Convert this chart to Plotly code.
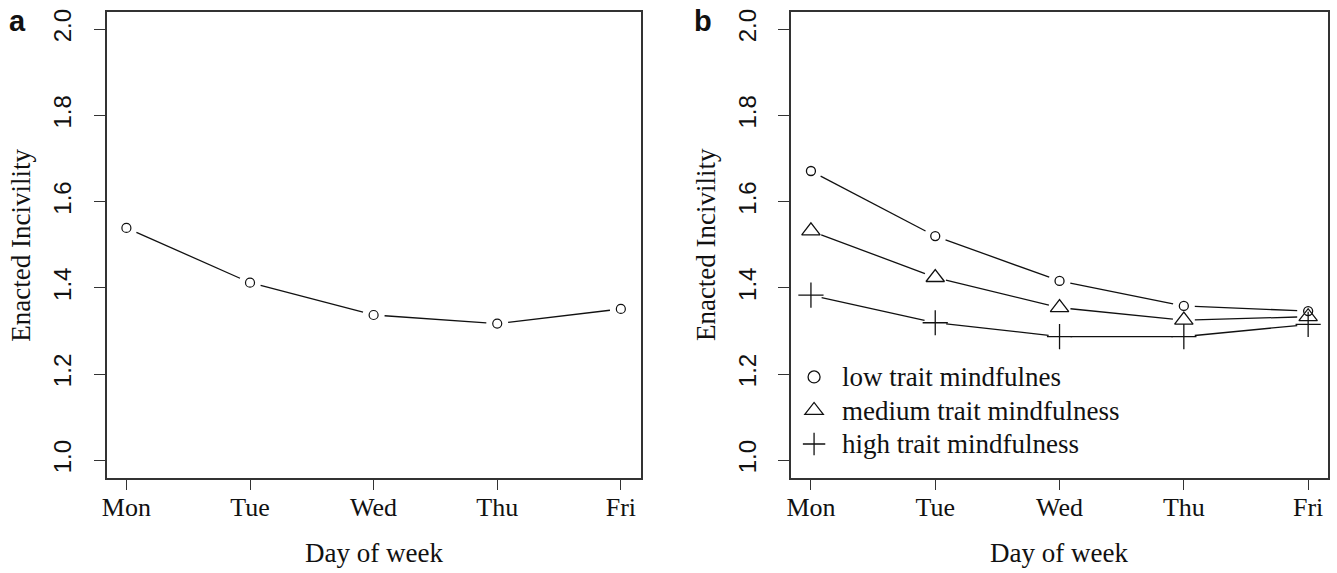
import plotly.graph_objects as go

days = ["Mon", "Tue", "Wed", "Thu", "Fri"]
day_idx = [1, 2, 3, 4, 5]
overall = [1.539, 1.412, 1.337, 1.317, 1.351]
low_mind = [1.671, 1.520, 1.416, 1.358, 1.346]
med_mind = [1.532, 1.424, 1.354, 1.325, 1.333]
high_mind = [1.383, 1.319, 1.287, 1.287, 1.315]
series_names = ["low trait mindfulnes", "medium trait mindfulness", "high trait mindfulness"]
y_ticks = [1.0, 1.2, 1.4, 1.6, 1.8, 2.0]

W, H = 1337, 573
XR = [0.84, 5.16]
YR = [0.96, 2.04]
dom_a = [102 / W, 638 / W]
dom_b = [789 / W, 1328 / W]
dom_y = [1 - 477 / H, 1 - 9 / H]
INK = "#111111"
AX = "#333333"
SERIF = "Liberation Serif, Times New Roman, serif"
SANS = "Liberation Sans, Arial, sans-serif"
GAP = 11  # px gap between line and points (R type="b")


def gapped(xs, ys, xdom):
    sx = (xdom[1] - xdom[0]) * W / (XR[1] - XR[0])
    sy = (dom_y[1] - dom_y[0]) * H / (YR[1] - YR[0])
    gx, gy = [], []
    for i in range(len(xs) - 1):
        dx = (xs[i + 1] - xs[i]) * sx
        dy = (ys[i + 1] - ys[i]) * sy
        L = (dx * dx + dy * dy) ** 0.5
        f = GAP / L
        if f >= 0.5:
            continue
        gx += [xs[i] + f * (xs[i + 1] - xs[i]), xs[i + 1] - f * (xs[i + 1] - xs[i]), None]
        gy += [ys[i] + f * (ys[i + 1] - ys[i]), ys[i + 1] - f * (ys[i + 1] - ys[i]), None]
    return gx, gy


fig = go.Figure()

# Panel a
gx, gy = gapped(day_idx, overall, dom_a)
fig.add_trace(go.Scatter(x=gx, y=gy, mode="lines", line=dict(color=INK, width=1.3),
                         showlegend=False, hoverinfo="skip", xaxis="x", yaxis="y"))
fig.add_trace(go.Scatter(x=day_idx, y=overall, mode="markers",
                         marker=dict(symbol="circle-open", size=9, color=INK, line=dict(width=1.2)),
                         showlegend=False, xaxis="x", yaxis="y"))

# Panel b
styles = [
    dict(symbol="circle-open", size=9),
    dict(symbol="triangle-up-open", size=16),
    dict(symbol="cross-thin-open", size=18),
]
leg_sizes = [12, 17, 18]
for name, vals, st, ls in zip(series_names, [low_mind, med_mind, high_mind], styles, leg_sizes):
    gx, gy = gapped(day_idx, vals, dom_b)
    fig.add_trace(go.Scatter(x=gx, y=gy, mode="lines", line=dict(color=INK, width=1.3),
                             showlegend=False, hoverinfo="skip", xaxis="x2", yaxis="y2"))
    fig.add_trace(go.Scatter(x=day_idx, y=vals, mode="markers",
                             marker=dict(symbol=st["symbol"], size=st["size"], color=INK,
                                         line=dict(width=1.3, color=INK)),
                             showlegend=False, xaxis="x2", yaxis="y2"))
    fig.add_trace(go.Scatter(x=[None], y=[None], mode="markers",
                             name=f'<span style="font-size:27px">{name}</span>',
                             marker=dict(symbol=st["symbol"], size=ls, color=INK,
                                         line=dict(width=1.3, color=INK)),
                             showlegend=True, xaxis="x2", yaxis="y2"))

xaxis_common = dict(range=XR, tickmode="array", tickvals=day_idx, ticktext=days,
                    ticks="outside", ticklen=11, tickwidth=1.3, tickcolor=AX,
                    showline=True, linecolor=AX, linewidth=1.5, mirror=True,
                    showgrid=False, zeroline=False,
                    tickfont=dict(family=SERIF, size=26, color=INK), ticklabelstandoff=-5)
yaxis_common = dict(range=YR, tickmode="array", tickvals=y_ticks,
                    ticktext=[f"{v:.1f}" for v in y_ticks],
                    ticks="outside", ticklen=11, tickwidth=1.3, tickcolor=AX,
                    showline=True, linecolor=AX, linewidth=1.5, mirror=True,
                    showgrid=False, zeroline=False, tickangle=-90,
                    tickfont=dict(family=SANS, size=24, color=INK), ticklabelstandoff=13,
                    domain=dom_y)

fig.update_layout(
    width=W, height=H,
    margin=dict(l=0, r=0, t=0, b=0),
    paper_bgcolor="white", plot_bgcolor="white",
    xaxis=dict(xaxis_common, domain=dom_a, anchor="y"),
    yaxis=dict(yaxis_common, anchor="x"),
    xaxis2=dict(xaxis_common, domain=dom_b, anchor="y2"),
    yaxis2=dict(yaxis_common, anchor="x2"),
    showlegend=True,
    legend=dict(x=784 / W, y=1 - 354 / H, xanchor="left", yanchor="top",
                bgcolor="rgba(0,0,0,0)", borderwidth=0, itemwidth=46,
                font=dict(family=SERIF, size=23.5, color=INK),
                itemsizing="trace", tracegroupgap=0),
)

ann = [
    dict(text="<b>a</b>", x=13 / W, y=1 - 18 / H, font=dict(family=SANS, size=29, color=INK)),
    dict(text="<b>b</b>", x=701 / W, y=1 - 18 / H, font=dict(family=SANS, size=29, color=INK)),
    dict(text="Day of week", x=370 / W, y=1 - 553 / H, font=dict(family=SERIF, size=27, color=INK)),
    dict(text="Day of week", x=1058 / W, y=1 - 553 / H, font=dict(family=SERIF, size=27, color=INK)),
    dict(text="Enacted Incivility", x=16 / W, y=1 - 243 / H, textangle=-90,
         font=dict(family=SERIF, size=27, color=INK)),
    dict(text="Enacted Incivility", x=703 / W, y=1 - 243 / H, textangle=-90,
         font=dict(family=SERIF, size=27, color=INK)),
]
for a in ann:
    a.update(xref="paper", yref="paper", showarrow=False, xanchor="center", yanchor="middle")
fig.update_layout(annotations=ann)

fig.write_html("out.html", config={"displayModeBar": False},
               post_script="document.body.style.margin='0';document.body.style.overflow='hidden';")
